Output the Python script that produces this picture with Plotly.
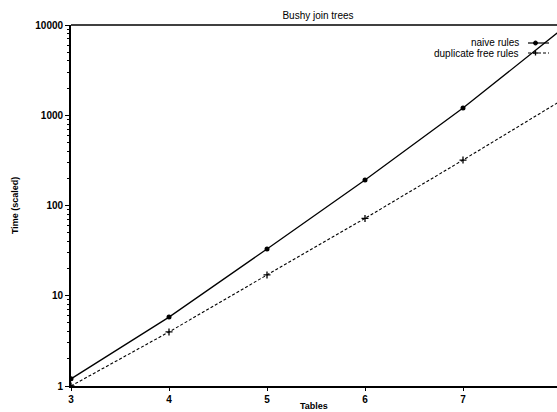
import plotly.graph_objects as go

tables = [3, 4, 5, 6, 7, 8]
naive_rules = [1.2, 5.8, 33, 192, 1200, 8800]
dup_free_rules = [1.0, 3.97, 17, 72, 319, 1450]

x_ticks = [3, 4, 5, 6, 7]
y_ticks = [1, 10, 100, 1000, 10000]
y_tick_labels = ["1", "10", "100", "1000", "10000"]
y_minor = [m * 10 ** k for k in range(4) for m in range(2, 10)]

W, H = 557, 412
ML, MR, MT, MB = 71, 0, 25, 26
PW, PH = W - ML - MR, H - MT - MB

def px(x):
    return (x - ML) / PW

def py(y):
    return (H - MB - y) / PH

fig = go.Figure()
fig.add_trace(go.Scatter(
    x=tables, y=naive_rules, mode="lines+markers", name="naive rules",
    line=dict(color="black", width=1.3),
    marker=dict(symbol="circle", size=5, color="black"),
    showlegend=False))
fig.add_trace(go.Scatter(
    x=tables, y=dup_free_rules, mode="lines+markers", name="duplicate free rules",
    line=dict(color="black", width=1.1, dash="3px,2px"),
    marker=dict(symbol="cross-thin", size=5, color="black", line=dict(width=1.3, color="black")),
    showlegend=False))

font = "Liberation Sans, Arial, Helvetica, sans-serif"

shapes = [dict(type="line", xref="paper", yref="paper", x0=0, x1=1, y0=1, y1=1,
               line=dict(color="black", width=1.5))]
annotations = []
# custom legend (text left of sample, as in the original)
leg = [("naive rules", 43, "solid"), ("duplicate free rules", 53, "3px,2px")]
for name, yy, dash in leg:
    annotations.append(dict(x=px(521), y=py(yy), xref="paper", yref="paper",
                            text=name, showarrow=False, xanchor="right", yanchor="middle",
                            font=dict(family=font, size=10, color="black")))
    shapes.append(dict(type="line", xref="paper", yref="paper",
                       x0=px(528), x1=px(549), y0=py(yy), y1=py(yy),
                       line=dict(color="black", width=1.2, dash=dash)))
# legend markers
shapes.append(dict(type="circle", xref="paper", yref="paper",
                   x0=px(533.5), x1=px(537.5), y0=py(45), y1=py(41),
                   fillcolor="black", line=dict(color="black", width=1)))
shapes.append(dict(type="line", xref="paper", yref="paper",
                   x0=px(535.5), x1=px(535.5), y0=py(50.5), y1=py(55.5),
                   line=dict(color="black", width=1.3)))
shapes.append(dict(type="line", xref="paper", yref="paper",
                   x0=px(533), x1=px(538), y0=py(53), y1=py(53),
                   line=dict(color="black", width=1.3)))

annotations.append(dict(x=px(15), y=py(206), xref="paper", yref="paper",
                        text="<b>Time (scaled)</b>", textangle=-90, showarrow=False,
                        xanchor="center", yanchor="middle",
                        font=dict(family=font, size=9, color="black")))
annotations.append(dict(x=px(314), y=py(406), xref="paper", yref="paper",
                        text="<b>Tables</b>", showarrow=False,
                        xanchor="center", yanchor="middle",
                        font=dict(family=font, size=9, color="black")))

fig.update_layout(
    width=W, height=H,
    margin=dict(l=ML, r=MR, t=MT, b=MB, pad=0),
    paper_bgcolor="white", plot_bgcolor="white",
    title=dict(text="Bushy join trees", x=318 / W, xanchor="center",
               y=1 - 15 / H, yanchor="middle",
               font=dict(family=font, size=10, color="black")),
    shapes=shapes, annotations=annotations,
    showlegend=False,
)
fig.update_xaxes(
    range=[3, 3 + PW / 98.0], tickvals=x_ticks, ticktext=[f"<b>{t}</b>" for t in x_ticks],
    showgrid=False, zeroline=False, showline=True, linecolor="black", linewidth=1.5,
    mirror=False, ticks="outside", ticklen=3, tickwidth=1, tickcolor="black",
    tickfont=dict(family=font, size=10, color="black"))
fig.update_yaxes(
    type="log", range=[0, 4], tickvals=y_ticks,
    ticktext=[f"<b>{t}</b>" for t in y_tick_labels],
    showgrid=False, zeroline=False, showline=True, linecolor="black", linewidth=1.8,
    mirror=False, ticks="outside", ticklen=4, tickwidth=1, tickcolor="black",
    minor=dict(tickvals=y_minor, ticks="outside", ticklen=2, tickwidth=1,
               tickcolor="black", showgrid=False),
    tickfont=dict(family=font, size=10, color="black"))

fig.write_html(
    "out.html",
    config={"displayModeBar": False},
    post_script="document.body.style.margin='0';document.body.style.overflow='hidden';",
)
